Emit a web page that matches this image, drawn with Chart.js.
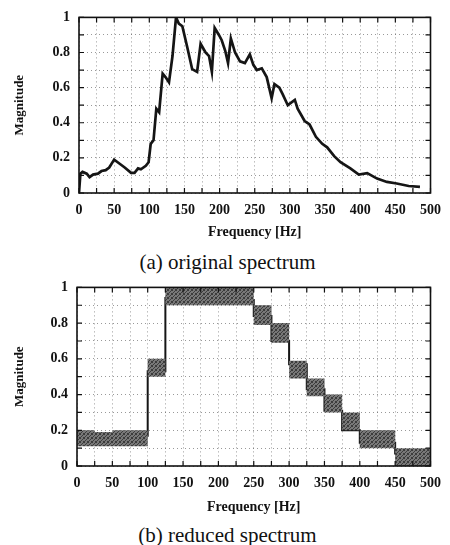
<!DOCTYPE html>
<html lang="en">
<head>
    <meta charset="UTF-8">
    <title>Original and reduced spectrum</title>
    <script src="https://cdn.jsdelivr.net/npm/chart.js"></script>
    <style>
        body { margin: 0; background: #fff; width: 450px; height: 545px; position: relative; overflow: hidden; }
        .box { position: absolute; left: 0; width: 450px; }
        .caption { position: absolute; left: 0; width: 455px; text-align: center;
                   font-family: 'Liberation Serif', serif; font-size: 21px; line-height: 24px; color: #111; }
    </style>
</head>
<body>
    <div class="box" style="top:0; height:245px;"><canvas id="origChart"></canvas></div>
    <div class="caption" style="top:250px;">(a) original spectrum</div>
    <div class="box" style="top:270px; height:250px;"><canvas id="reducedChart"></canvas></div>
    <div class="caption" style="top:523px;">(b) reduced spectrum</div>

    <script>
        // (a) original spectrum
        const freqA = [0, 2, 5, 11, 15, 20, 27, 32, 38, 43, 50, 55, 65, 74, 79, 84, 88, 95, 99,
            102, 106, 110, 114, 119, 123, 128, 133, 138, 142, 147, 154, 161, 168, 173, 180, 185, 189,
            193, 199, 203, 208, 212, 216, 222, 229, 236, 243, 248, 253, 260, 267, 274, 278, 285, 290,
            297, 307, 311, 321, 328, 337, 346, 353, 363, 372, 386, 398, 410, 424, 438, 452, 469, 485];
        const magA = [0, 0.11, 0.12, 0.11, 0.09, 0.105, 0.11, 0.125, 0.13, 0.145, 0.19, 0.175, 0.145, 0.115, 0.115, 0.14, 0.135, 0.155, 0.175,
            0.28, 0.30, 0.48, 0.46, 0.68, 0.66, 0.63, 0.78, 1.0, 0.965, 0.95, 0.83, 0.705, 0.69, 0.85, 0.80, 0.78, 0.69,
            0.94, 0.90, 0.87, 0.81, 0.74, 0.88, 0.80, 0.75, 0.74, 0.79, 0.73, 0.70, 0.71, 0.66, 0.54, 0.62, 0.60, 0.56,
            0.50, 0.53, 0.48, 0.41, 0.39, 0.32, 0.28, 0.26, 0.21, 0.175, 0.14, 0.105, 0.113, 0.082, 0.063, 0.054, 0.04, 0.035];

        // (b) reduced spectrum, one value per 25 Hz band
        const binStart = [0, 25, 50, 75, 100, 125, 150, 175, 200, 225, 250, 275, 300, 325, 350, 375, 400, 425, 450, 475];
        const binLow  = [0.11, 0.11, 0.11, 0.11, 0.50, 0.90, 0.90, 0.90, 0.90, 0.90, 0.79, 0.69, 0.49, 0.39, 0.30, 0.20, 0.10, 0.10, 0.00, 0.00];
        const binHigh = [0.20, 0.19, 0.20, 0.20, 0.60, 1.00, 1.00, 1.00, 1.00, 1.00, 0.90, 0.80, 0.59, 0.49, 0.40, 0.30, 0.20, 0.20, 0.10, 0.10];
        const binMid  = [0.13, 0.15, 0.16, 0.17, 0.53, 0.94, 0.93, 0.96, 0.97, 0.93, 0.84, 0.70, 0.57, 0.43, 0.31, 0.20, 0.13, 0.13, 0.07, 0.055];

        const xTicks = [0, 50, 100, 150, 200, 250, 300, 350, 400, 450, 500];
        const yTicks = [0, 0.2, 0.4, 0.6, 0.8, 1];

        const serif = 'Liberation Serif';

        // stepped points: each band value held until the next band edge
        function toSteps(vals) {
            const pts = binStart.map((f, i) => ({ x: f, y: vals[i] }));
            pts.push({ x: 500, y: vals[vals.length - 1] });
            return pts;
        }

        // small fixed stipple tile for the shaded bands
        function stipple() {
            const c = document.createElement('canvas');
            c.width = 4; c.height = 4;
            const g = c.getContext('2d');
            g.fillStyle = 'rgb(120,120,120)';
            g.fillRect(0, 0, 4, 4);
            g.fillStyle = 'rgb(60,60,60)';
            [[0, 0], [2, 1], [1, 2], [3, 3], [3, 0], [0, 3]].forEach(([px, py]) => g.fillRect(px, py, 1, 1));
            return g.createPattern(c, 'repeat');
        }

        // solid frame and inward tick marks on all four sides
        const frame = {
            id: 'frame',
            afterDraw(chart) {
                const { ctx, chartArea: a, scales: { x, y } } = chart;
                ctx.save();
                ctx.strokeStyle = '#111';
                ctx.lineWidth = 1.2;
                ctx.beginPath();
                x.ticks.forEach(t => {
                    const px = x.getPixelForValue(t.value);
                    ctx.moveTo(px, a.bottom); ctx.lineTo(px, a.bottom - 5);
                    ctx.moveTo(px, a.top); ctx.lineTo(px, a.top + 5);
                });
                y.ticks.forEach(t => {
                    const py = y.getPixelForValue(t.value);
                    ctx.moveTo(a.left, py); ctx.lineTo(a.left + 5, py);
                    ctx.moveTo(a.right, py); ctx.lineTo(a.right - 5, py);
                });
                ctx.stroke();
                ctx.lineWidth = 1.6;
                ctx.strokeRect(a.left, a.top, a.right - a.left, a.bottom - a.top);
                ctx.restore();
            }
        };

        function makeOptions(yWidth, xHeight, topPad) {
            const tickFont = { family: serif, weight: 'bold', size: 14 };
            return {
                responsive: true,
                maintainAspectRatio: false,
                animation: false,
                layout: { padding: { left: 0, right: 16, top: topPad, bottom: 0 } },
                plugins: { legend: { display: false }, tooltip: { enabled: false } },
                scales: {
                    x: {
                        type: 'linear', min: 0, max: 500,
                        ticks: {
                            stepSize: 25, autoSkip: false, maxRotation: 0, padding: 9,
                            color: '#111', font: tickFont,
                            callback: v => xTicks.includes(v) ? String(v) : ''
                        },
                        grid: { color: 'rgba(0,0,0,0.4)', lineWidth: 1, drawTicks: false },
                        border: { display: false, dash: [1, 3] },
                        title: {
                            display: true, text: 'Frequency [Hz]', color: '#111',
                            font: { family: serif, weight: 'bold', size: 14 },
                            padding: { top: 0, bottom: 4 }
                        },
                        afterFit: s => { s.height = xHeight; }
                    },
                    y: {
                        min: 0, max: 1,
                        ticks: {
                            stepSize: 0.1, autoSkip: false, padding: 9,
                            color: '#111', font: tickFont,
                            callback: v => {
                                const r = Math.round(v * 10) / 10;
                                return yTicks.includes(r) ? String(r) : '';
                            }
                        },
                        grid: { color: 'rgba(0,0,0,0.4)', lineWidth: 1, drawTicks: false },
                        border: { display: false, dash: [1, 3] },
                        title: {
                            display: true, text: 'Magnitude', color: '#111',
                            font: { family: serif, weight: 'bold', size: 13 },
                            padding: { top: 12, bottom: 0 }
                        },
                        afterFit: s => { s.width = yWidth; }
                    }
                }
            };
        }

        // (a) original spectrum
        new Chart(document.getElementById('origChart'), {
            type: 'line',
            data: {
                datasets: [{
                    data: freqA.map((f, i) => ({ x: f, y: magA[i] })),
                    borderColor: '#151515',
                    borderWidth: 2.7,
                    pointRadius: 0,
                    tension: 0,
                    fill: false
                }]
            },
            options: makeOptions(79, 52, 14),
            plugins: [frame]
        });

        // (b) reduced spectrum: shaded band between low/high plus the stepped value
        new Chart(document.getElementById('reducedChart'), {
            type: 'line',
            data: {
                datasets: [
                    {
                        data: toSteps(binHigh), stepped: true,
                        borderWidth: 0, borderColor: 'rgba(0,0,0,0)', pointRadius: 0,
                        backgroundColor: stipple(), fill: '+1'
                    },
                    {
                        data: toSteps(binLow), stepped: true,
                        borderWidth: 0, borderColor: 'rgba(0,0,0,0)', pointRadius: 0,
                        fill: false
                    },
                    {
                        data: toSteps(binMid), stepped: true,
                        borderColor: '#151515', borderWidth: 2, pointRadius: 0,
                        fill: false
                    }
                ]
            },
            options: makeOptions(77, 54, 13),
            plugins: [frame]
        });
    </script>
</body>
</html>
